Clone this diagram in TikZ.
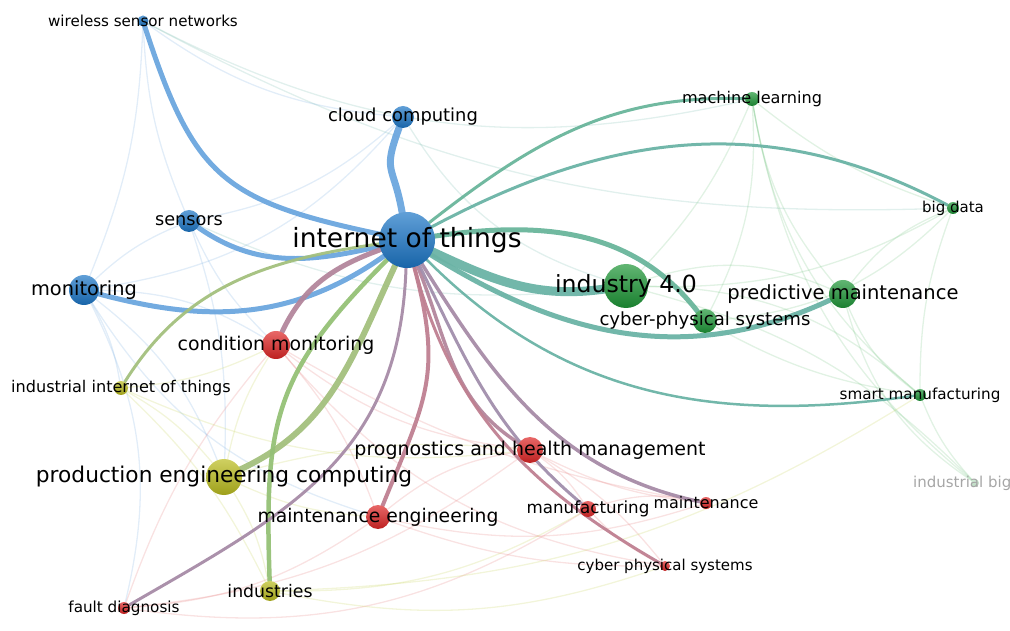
\documentclass[tikz,border=0pt]{standalone}
\usepackage{fontspec}
\setmainfont{DejaVu Sans}
\definecolor{kblue}{RGB}{28,118,198}
\definecolor{kgreen}{RGB}{30,150,55}
\definecolor{kred}{RGB}{222,38,38}
\definecolor{kolive}{RGB}{186,188,30}
\definecolor{lblue}{RGB}{108,166,222}
\definecolor{lgreen}{RGB}{104,190,118}
\definecolor{lred}{RGB}{226,112,112}
\definecolor{lolive}{RGB}{192,206,72}
\colorlet{lteal}{lblue!45!lgreen}
\colorlet{lsage}{lblue!35!lolive}
\pgfdeclarelayer{bg}
\pgfsetlayers{bg,main}
\tikzset{
  kw/.style 2 args={circle, inner sep=0pt, minimum size=#2, top color=#1!70!white, bottom color=#1!85!black},
  kwtext/.style={font=\fontsize{#1}{#1}\selectfont, inner sep=0pt, text=black},
  tie/.style 2 args={draw=#1, line width=#2, line cap=round, opacity=0.95},
  faint/.style={draw=#1, line width=1.3pt, opacity=0.2},
}
\begin{document}
\begin{tikzpicture}[x=1pt,y=1pt]
    \useasboundingbox (0,0) rectangle (1010,630);
    \clip (0,0) rectangle (1010,630);
    % keyword circles
    \node[kw={kblue}{56pt}] (iot) at (407,390) {};
    \node[kw={kblue}{22pt}] (cloud) at (403,513) {};
    \node[kw={kblue}{11pt}] (wsn) at (143,609) {};
    \node[kw={kblue}{22pt}] (sen) at (189,409) {};
    \node[kw={kblue}{30pt}] (mon) at (84,340) {};
    \node[kw={kred}{28pt}] (cm) at (276,285) {};
    \node[kw={kolive}{14pt}] (iiot) at (121,242) {};
    \node[kw={kolive}{36pt}] (pec) at (224,153) {};
    \node[kw={kolive}{20pt}] (ind) at (270,39) {};
    \node[kw={kred}{12pt}] (fd) at (124,22) {};
    \node[kw={kred}{24pt}] (me) at (378,113) {};
    \node[kw={kred}{26pt}] (phm) at (530,180) {};
    \node[kw={kred}{16pt}] (mf) at (588,121) {};
    \node[kw={kred}{12pt}] (maint) at (706,127) {};
    \node[kw={kred}{10pt}] (cps2) at (665,64) {};
    \node[kw={kgreen}{44pt}] (ind40) at (626,344) {};
    \node[kw={kgreen}{24pt}] (cps) at (705,309) {};
    \node[kw={kgreen}{28pt}] (pm) at (843,336) {};
    \node[kw={kgreen}{14pt}] (ml) at (752,531) {};
    \node[kw={kgreen}{12pt}] (bd) at (953,422) {};
    \node[kw={kgreen}{12pt}] (sm) at (920,235) {};
    \node[kw={kgreen}{8pt}, opacity=0.3] (ibd) at (975,147) {};
    % links
    \begin{pgfonlayer}{bg}
        \foreach \a/\b/\c/\n in {wsn/mon/lblue/10, wsn/sen/lblue/-10, wsn/cloud/lblue/-15,
            cloud/sen/lblue/15, cloud/mon/lblue/20, sen/mon/lblue/-10, mon/iiot/lblue/10,
            mon/fd/lblue/20, mon/pec/lblue/15, sen/pec/lblue/10, cloud/ind40/lteal/-20,
            wsn/bd/lteal/-15, sen/cm/lblue/-10, mon/cm/lblue/15, mon/me/lblue/-20,
            sen/ind40/lteal/-15, wsn/ml/lteal/-20,
            ml/ind40/lgreen/10, ml/pm/lgreen/-15, ml/cps/lgreen/15, ml/bd/lgreen/-10,
            ml/sm/lgreen/-20, bd/pm/lgreen/-15, bd/ind40/lgreen/15, bd/sm/lgreen/-10,
            bd/cps/lgreen/20, sm/pm/lgreen/15, sm/ind40/lgreen/-20, sm/ibd/lgreen/-10,
            ibd/pm/lgreen/20, ibd/ind40/lgreen/-15, pm/ind40/lgreen/-20, sm/cps/lgreen/10,
            ml/ibd/lgreen/-20, cm/phm/lred/-15, cm/me/lred/10, me/phm/lred/15,
            phm/maint/lred/-10, phm/mf/lred/10, mf/maint/lred/15, fd/me/lred/-15,
            fd/cm/lred/10, cps2/phm/lred/-10, cps2/mf/lred/10, cm/maint/lred/-10,
            fd/phm/lred/-15, me/maint/lred/-15, fd/mf/lred/-20, me/cps2/lred/-10,
            cm/cps2/lred/-20, pec/ind/lolive/10, pec/iiot/lolive/-10,
            pec/me/lolive/-10, pec/cm/lolive/10, ind/mf/lolive/-15, iiot/ind/lolive/10,
            ind/sm/lolive/-15, pec/phm/lolive/10, iiot/cm/lolive/-10, ind/cps2/lolive/-15,
            iiot/phm/lolive/-15}
            \draw[faint=\c] (\a) to[bend left=\n] (\b);
        \foreach \t/\o/\i/\l/\c/\w in {wsn/168/-72/1.3/lblue/5, cloud/100/-110/1.5/lblue/7,
            sen/193/-35/1/lblue/5, mon/215/-15/1/lblue/5, cm/200/65/1/lblue!40!lred/5,
            iiot/188/58/1/lsage/3, pec/245/25/1/lsage/6, ind/225/92/1.2/lolive!50!lteal/4.5,
            fd/268/30/1.1/lblue!50!lred/3, me/285/68/1.2/lred!70!lblue/4,
            phm/292/148/1/lred!60!lblue/3.5, mf/296/140/1/lblue!55!lred/3,
            maint/302/168/1/lblue!50!lred/3.5, cps2/285/150/1/lred!70!lblue/3,
            ind40/-25/188/1/lteal/9, cps/8/128/1/lteal!80!lgreen/5, pm/-32/205/1/lteal/5,
            sm/-45/188/1/lteal/2.5, ml/38/178/1/lteal!80!lgreen/3, bd/28/152/1/lteal/3}
            \draw[tie={\c}{\w pt}] (iot) to[out=\o, in=\i, looseness=\l] (\t);
    \end{pgfonlayer}
    % keyword labels
    \node[kwtext=26.5pt] (iot-l) at (iot) {internet of things};
    \node[kwtext=17.9pt] (cloud-l) at (cloud) {cloud computing};
    \node[kwtext=15.1pt] (wsn-l) at (wsn) {wireless sensor networks};
    \node[kwtext=17.7pt] (sen-l) at (sen) {sensors};
    \node[kwtext=19.4pt] (mon-l) at (mon) {monitoring};
    \node[kwtext=18.9pt] (cm-l) at (cm) {condition monitoring};
    \node[kwtext=16.1pt] (iiot-l) at (iiot) {industrial internet of things};
    \node[kwtext=21.7pt] (pec-l) at (pec) {production engineering computing};
    \node[kwtext=17.3pt] (ind-l) at (ind) {industries};
    \node[kwtext=15.2pt] (fd-l) at (fd) {fault diagnosis};
    \node[kwtext=18.75pt] (me-l) at (me) {maintenance engineering};
    \node[kwtext=19pt] (phm-l) at (phm) {prognostics and health management};
    \node[kwtext=16.7pt] (mf-l) at (mf) {manufacturing};
    \node[kwtext=16pt] (maint-l) at (maint) {maintenance};
    \node[kwtext=15pt] (cps2-l) at (cps2) {cyber physical systems};
    \node[kwtext=23.6pt] (ind40-l) at (ind40) {industry 4.0};
    \node[kwtext=18.1pt] (cps-l) at (cps) {cyber-physical systems};
    \node[kwtext=19.5pt] (pm-l) at (pm) {predictive maintenance};
    \node[kwtext=16.1pt] (ml-l) at (ml) {machine learning};
    \node[kwtext=15pt] (bd-l) at (bd) {big data};
    \node[kwtext=15.2pt] (sm-l) at (sm) {smart manufacturing};
    \node[kwtext=15pt, text=black!35, anchor=west] (ibd-l) at (913,147) {industrial big data};
\end{tikzpicture}
\end{document}
